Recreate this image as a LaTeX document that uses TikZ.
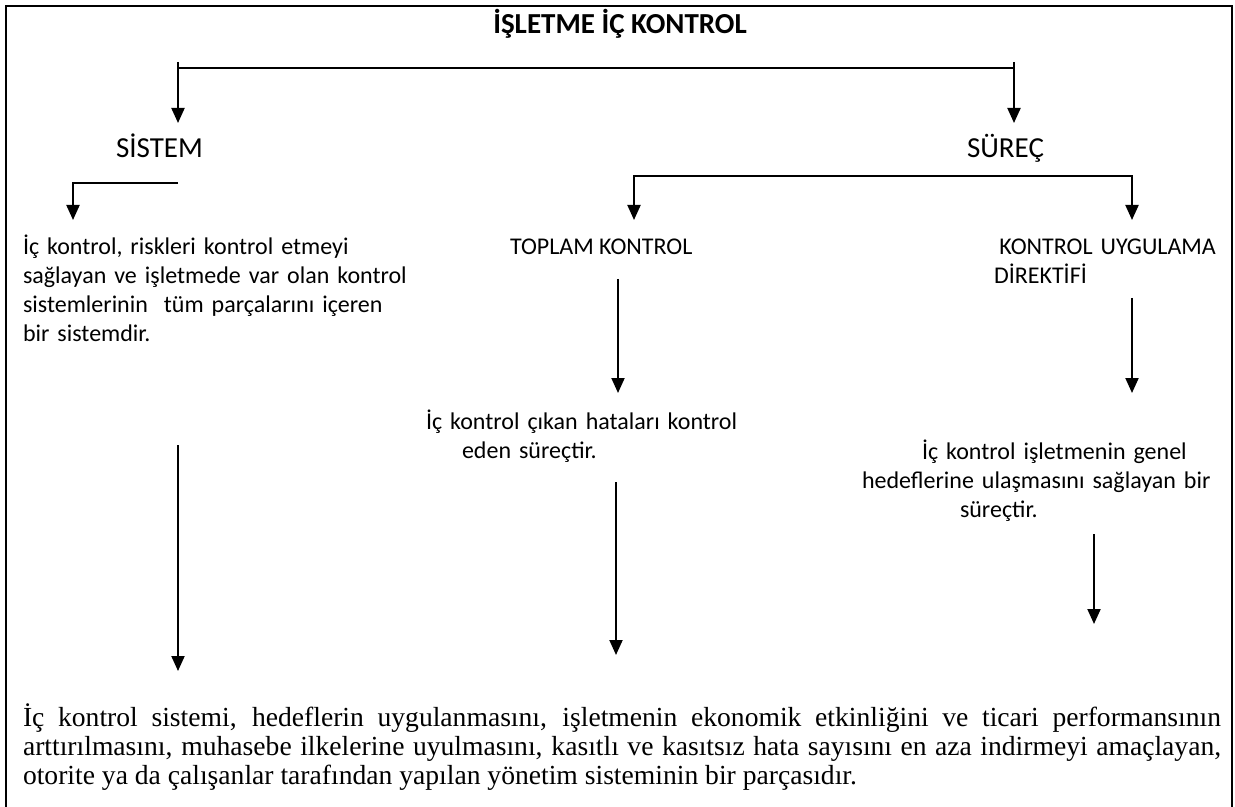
\documentclass[tikz,border=0pt]{standalone}
\usepackage{fontspec}
\setmainfont{Carlito}
\newfontfamily\govdefont{Liberation Serif}
\usetikzlibrary{arrows.meta}
\tikzset{
	every node/.style={
		font=\fontsize{12}{14.5}\selectfont,
		inner sep=0pt,
		align=left
	},
	baslik/.style={
		font=\fontsize{14.5}{17}\selectfont\bfseries
	},
	dal/.style={
		font=\fontsize{14.5}{17}\selectfont
	},
	govde/.style={
		font=\govdefont\fontsize{13.8}{14.5}\selectfont,
		text width=599pt,
		align=justify
	},
	cerceve/.style={line width=1.1pt},
	ok/.style={-{Triangle[width=6.5pt,length=7.5pt]}},
	ok2/.style={{Triangle[width=6.5pt,length=7.5pt]}-{Triangle[width=6.5pt,length=7.5pt]}}
}

\begin{document}
\begin{tikzpicture}[x=0.5pt,y=-0.5pt,line width=1pt]
	\useasboundingbox (0,0) rectangle (1235,807);
	
	% cerceve
	\draw[cerceve] (6,807) -- (6,6) -- (1232,6) -- (1232,807);
	
	% basliklar
	\node[baslik, anchor=base] (isletme) at (620,34) {İŞLETME İÇ KONTROL};
	\node[dal, anchor=base west] (sistem) at (115,158) {SİSTEM};
	\node[dal, anchor=base west] (surec) at (966,158) {SÜREÇ};
	\node[anchor=base west] (toplam) at (509,255) {TOPLAM KONTROL};
	\node[anchor=base west, text width=120pt] (direktif) at (993,255)
		{\hspace*{2.7pt}KONTROL UYGULAMA\\DİREKTİFİ};
	
	% aciklamalar
	\node[anchor=base west, text width=195pt] (sistemtanim) at (22,255)
		{İç kontrol, riskleri kontrol etmeyi\\
		 sağlayan ve işletmede var olan kontrol\\
		 sistemlerinin\ \ tüm parçalarını içeren\\
		 bir sistemdir.};
	\node[anchor=base west, text width=160pt] (hatatanim) at (425,429)
		{İç kontrol çıkan hataları kontrol\\
		 \hspace*{18pt}eden süreçtir.};
	\node[anchor=base west, text width=185pt] (hedeftanim) at (861,459)
		{\hspace*{30pt}İç kontrol işletmenin genel\\
		 hedeflerine ulaşmasını sağlayan bir\\
		 \hspace*{49pt}süreçtir.};
	\node[govde, anchor=base west] (genel) at (22,726)
		{\tolerance=10000 \hyphenpenalty=10000
		 İç kontrol sistemi, hedeflerin uygulanmasını, işletmenin ekonomik etkinliğini ve ticari performansının\linebreak
		 arttırılmasını, muhasebe ilkelerine uyulmasını, kasıtlı ve kasıtsız hata sayısını en aza indirmeyi amaçlayan,\linebreak
		 otorite ya da çalışanlar tarafından yapılan yönetim sisteminin bir parçasıdır.};
	
	% ust kol
	\coordinate (k1) at (178,62);
	\coordinate (k2) at (1014,62);
	\coordinate (y1) at (178,68);
	\coordinate (y2) at (1014,68);
	\coordinate (s1) at (178,123);
	\coordinate (s2) at (1014,123);
	\draw (y1) -- (y2);
	\draw[ok] (k1) -- (s1);
	\draw[ok] (k2) -- (s2);
	
	% sistem kolu
	\coordinate (s3) at (178,183);
	\coordinate (s4) at (73,220);
	\draw[ok] (s3) -| (s4);
	
	% surec kolu
	\coordinate (r1) at (634,220);
	\coordinate (c1) at (634,176);
	\coordinate (c2) at (1132,176);
	\coordinate (r2) at (1132,220);
	\draw[ok2] (r1) -- (c1) -- (c2) -- (r2);
	
	% dikey oklar
	\foreach \ad/\xa/\ya/\yb in {a/618/279/393, b/1132/298/393, d/178/445/671, e/616/482/655, f/1094/534/624} {
		\coordinate (\ad-bas) at (\xa,\ya);
		\coordinate (\ad-son) at (\xa,\yb);
		\draw[ok] (\ad-bas) -- (\ad-son);
	}
	
\end{tikzpicture}
\end{document}
